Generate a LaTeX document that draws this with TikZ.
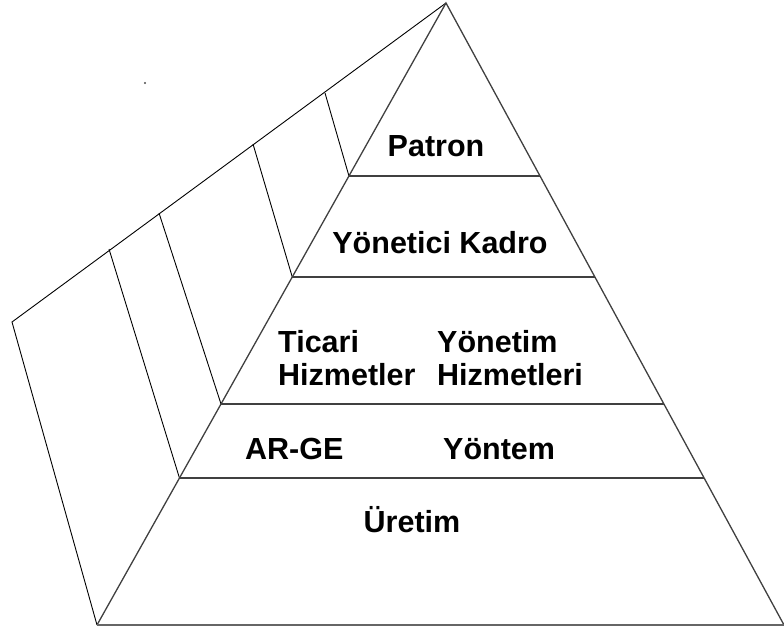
\documentclass[tikz,border=0pt]{standalone}
\usepackage{fontspec}
\setmainfont{Liberation Sans}
\usetikzlibrary{calc}
\begin{document}
\begin{tikzpicture}[x=1pt,y=-1pt,
  face/.style={line width=1.3pt,draw=black!75},
  back/.style={line width=0.9pt,draw=black},
  base/.style={line width=2pt,draw=black!60},
  lbl/.style={font=\bfseries\fontsize{30.5}{33}\selectfont,inner sep=0pt,text=black}]
\useasboundingbox (0,0) rectangle (784,631);
% corners
\coordinate (A) at (446,3);
\coordinate (BL) at (97,625);
\coordinate (BR) at (784,625);
\coordinate (K) at (12,322);
% left edge level points
\coordinate (L1) at ($(A)!0.2781!(BL)$);
\coordinate (L2) at ($(A)!0.4405!(BL)$);
\coordinate (L3) at ($(A)!0.6447!(BL)$);
\coordinate (L4) at ($(A)!0.7637!(BL)$);
\coordinate (R1) at ($(A)!0.2781!(BR)$);
\coordinate (R2) at ($(A)!0.4405!(BR)$);
\coordinate (R3) at ($(A)!0.6447!(BR)$);
\coordinate (R4) at ($(A)!0.7637!(BR)$);
% back edge points
\coordinate (T1) at (325,93);
\coordinate (T2) at (253,144);
\coordinate (T3) at (159,213);
\coordinate (T4) at (109,249);
% back face
\draw[back] (A) -- (K) -- (BL);
\draw[back] (T1) -- (L1);
\draw[back] (T2) -- (L2);
\draw[back] (T3) -- (L3);
\draw[back] (T4) -- (L4);
% front pyramid
\draw[face] (BL) -- (A) -- (BR);
\draw[face] (L1) -- (R1);
\draw[face] (L2) -- (R2);
\draw[face] (L3) -- (R3);
\draw[face] (L4) -- (R4);
\draw[base] (BL) -- (BR);
% stray dot
\fill[black!70] (145,83) circle (1.2pt);
% labels
\node[lbl,anchor=base] (patron) at (436,157) {Patron};
\node[lbl,anchor=base] (yk) at (440,253) {Yönetici Kadro};
\node[lbl,anchor=base west] (tic) at (278,352) {Ticari};
\node[lbl,anchor=base west] (tic2) at (278,385) {Hizmetler};
\node[lbl,anchor=base west] (yon) at (437,352) {Yönetim};
\node[lbl,anchor=base west] (yon2) at (437,385) {Hizmetleri};
\node[lbl,anchor=base west] (arge) at (245,459) {AR-GE};
\node[lbl,anchor=base west] (yontem) at (443,459) {Yöntem};
\node[lbl,anchor=base] (uretim) at (412,532) {Üretim};
\end{tikzpicture}
\end{document}
